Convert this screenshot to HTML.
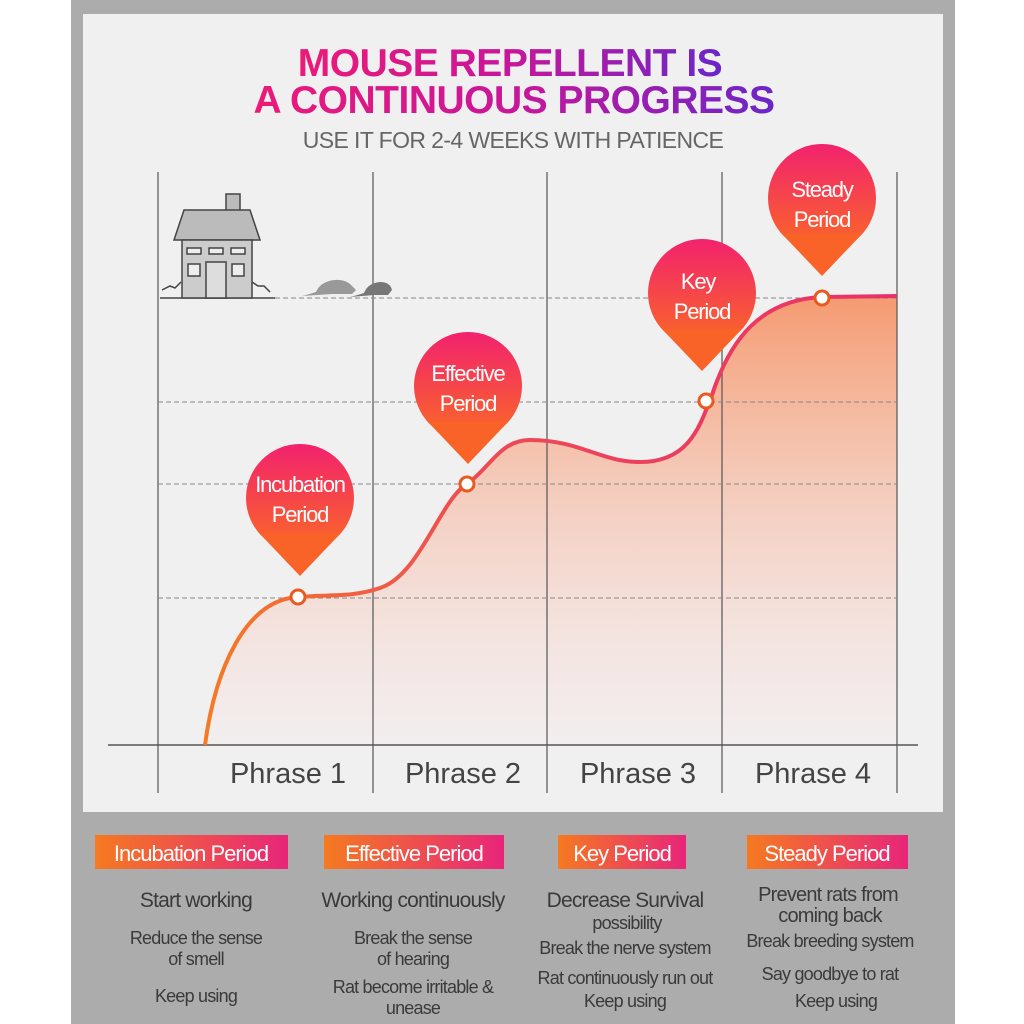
<!DOCTYPE html>
<html><head><meta charset="utf-8"><style>
body{margin:0;width:1024px;height:1024px;overflow:hidden;background:#fff}
svg{display:block}
text{font-family:"Liberation Sans",sans-serif}
</style></head><body>
<svg width="1024" height="1024" viewBox="0 0 1024 1024" xmlns="http://www.w3.org/2000/svg">
<defs>
<linearGradient id="tg" x1="0" x2="1" y1="0" y2="0"><stop offset="0" stop-color="#ec1a78"/><stop offset="0.5" stop-color="#c8169a"/><stop offset="1" stop-color="#6a26c8"/></linearGradient>
<linearGradient id="pg" x1="0" x2="0" y1="0" y2="1"><stop offset="0" stop-color="#f2226e"/><stop offset="1" stop-color="#fa6a25"/></linearGradient>
<linearGradient id="fg" x1="0" x2="0" y1="296" y2="745" gradientUnits="userSpaceOnUse"><stop offset="0" stop-color="#f59a70"/><stop offset="1" stop-color="#f8e8ea" stop-opacity="0.3"/></linearGradient>
<linearGradient id="lg" x1="0" x2="1"><stop offset="0" stop-color="#f57a20"/><stop offset="1" stop-color="#e8257a"/></linearGradient>
<linearGradient id="cg" x1="205" x2="897" y1="0" y2="0" gradientUnits="userSpaceOnUse"><stop offset="0" stop-color="#f57a25"/><stop offset="0.4" stop-color="#ee4a55"/><stop offset="1" stop-color="#e8306a"/></linearGradient>
<g id="pin"><circle cx="0" cy="0" r="54" fill="url(#pg)"/><polygon points="-40,36 40,36 0,78" fill="#f96328"/></g>
</defs>
<rect x="71" y="0" width="884" height="1024" fill="#acacac"/>
<rect x="83" y="14" width="860" height="798" fill="#f0f0f0"/>
<text x="510" y="76" text-anchor="middle" font-size="39" font-weight="bold" fill="url(#tg)" letter-spacing="-0.5">MOUSE REPELLENT IS</text>
<text x="514" y="113" text-anchor="middle" font-size="39" font-weight="bold" fill="url(#tg)" letter-spacing="-0.5">A CONTINUOUS PROGRESS</text>
<text x="513" y="148" text-anchor="middle" font-size="23" fill="#666" letter-spacing="-0.6">USE IT FOR 2-4 WEEKS WITH PATIENCE</text>
<path d="M205,745 C215,670 245,600 298,597 C330,594 350,598 380,588 C420,575 440,500 467,484 C490,468 500,440 530,440 C580,440 600,462 640,462 C690,462 700,425 712,395 C730,340 760,300 822,297 L897,296 L897,745 Z" fill="url(#fg)"/>
<g stroke="#555" stroke-width="1.2">
<line x1="158" y1="172" x2="158" y2="793"/><line x1="373" y1="172" x2="373" y2="793"/><line x1="547" y1="172" x2="547" y2="793"/><line x1="722" y1="172" x2="722" y2="793"/><line x1="897" y1="172" x2="897" y2="793"/>
<line x1="108" y1="745" x2="918" y2="745" stroke-width="1.5"/>
</g>
<g stroke="#888" stroke-width="1" stroke-dasharray="5,3">
<line x1="275" y1="298" x2="897" y2="298"/><line x1="158" y1="402" x2="897" y2="402"/><line x1="158" y1="484" x2="897" y2="484"/><line x1="158" y1="598" x2="897" y2="598"/>
</g>
<path d="M205,745 C215,670 245,600 298,597 C330,594 350,598 380,588 C420,575 440,500 467,484 C490,468 500,440 530,440 C580,440 600,462 640,462 C690,462 700,425 712,395 C730,340 760,300 822,297 L897,296" fill="none" stroke="url(#cg)" stroke-width="4"/>
<g stroke="#444" stroke-width="1.5" fill="#bbb">
<line x1="160" y1="298" x2="275" y2="298"/>
<rect x="226" y="194" width="14" height="18"/>
<polygon points="184,210 250,210 260,240 174,240"/>
<rect x="182" y="240" width="70" height="58" fill="#ccc"/>
<rect x="206" y="262" width="20" height="36" fill="#ddd"/>
<rect x="187" y="248" width="14" height="6" fill="#eee"/><rect x="209" y="248" width="14" height="6" fill="#eee"/><rect x="231" y="248" width="14" height="6" fill="#eee"/>
<rect x="188" y="264" width="12" height="12" fill="#eee"/><rect x="232" y="264" width="12" height="12" fill="#eee"/>
<path d="M162,290 l8,-4 l5,2 l6,-6" fill="none"/><path d="M252,282 l6,4 l6,0 l6,6" fill="none"/>
</g>
<path d="M302,296 q8,-2 14,-4 q4,-10 18,-12 q12,-1 18,6 l4,4 l-4,4 l-20,0 z" fill="#999"/>
<path d="M350,297 q8,-2 14,-4 q4,-10 16,-11 q10,0 12,8 l-4,5 l-14,0 z" fill="#777"/>
<use href="#pin" x="300" y="498"/><use href="#pin" x="468" y="386"/><use href="#pin" x="702" y="293"/><use href="#pin" x="822" y="198"/>
<g fill="#fff" font-size="22" text-anchor="middle" letter-spacing="-1.2">
<text x="300" y="492">Incubation</text><text x="300" y="522">Period</text>
<text x="468" y="381">Effective</text><text x="468" y="411">Period</text>
<text x="698" y="289">Key</text><text x="702" y="319">Period</text>
<text x="822" y="197">Steady</text><text x="822" y="227">Period</text>
</g>
<g fill="#fff" stroke="#e85a20" stroke-width="3">
<circle cx="298" cy="597" r="7"/><circle cx="467" cy="484" r="7"/><circle cx="706" cy="401" r="7"/><circle cx="822" cy="298" r="7"/>
</g>
<g font-size="29" fill="#444" text-anchor="middle">
<text x="288" y="783">Phrase 1</text><text x="463" y="783">Phrase 2</text><text x="638" y="783">Phrase 3</text><text x="813" y="783">Phrase 4</text>
</g>
<rect x="95" y="835" width="193" height="34" fill="url(#lg)"/>
<rect x="324" y="835" width="180" height="34" fill="url(#lg)"/>
<rect x="558" y="835" width="128" height="34" fill="url(#lg)"/>
<rect x="747" y="835" width="161" height="34" fill="url(#lg)"/>
<g fill="#fff" font-size="22" text-anchor="middle" letter-spacing="-1">
<text x="191" y="861">Incubation Period</text><text x="414" y="861">Effective Period</text><text x="622" y="861">Key Period</text><text x="827" y="861">Steady Period</text>
</g>
<g fill="#3a3a3a" text-anchor="middle" font-size="18" letter-spacing="-0.8">
<text x="196" y="907" font-size="21">Start working</text>
<text x="196" y="944">Reduce the sense</text><text x="196" y="965">of smell</text>
<text x="196" y="1002">Keep using</text>
<text x="413" y="907" font-size="21">Working continuously</text>
<text x="413" y="944">Break the sense</text><text x="413" y="965">of hearing</text>
<text x="413" y="993">Rat become irritable &amp;</text><text x="413" y="1014">unease</text>
<text x="625" y="907" font-size="21">Decrease Survival</text><text x="627" y="929">possibility</text>
<text x="625" y="954">Break the nerve system</text>
<text x="625" y="984">Rat continuously run out</text><text x="625" y="1007">Keep using</text>
<text x="828" y="901" font-size="20">Prevent rats from</text><text x="830" y="922" font-size="20">coming back</text>
<text x="830" y="947">Break breeding system</text>
<text x="830" y="980">Say goodbye to rat</text><text x="836" y="1007">Keep using</text>
</g>
</svg>
</body></html>
